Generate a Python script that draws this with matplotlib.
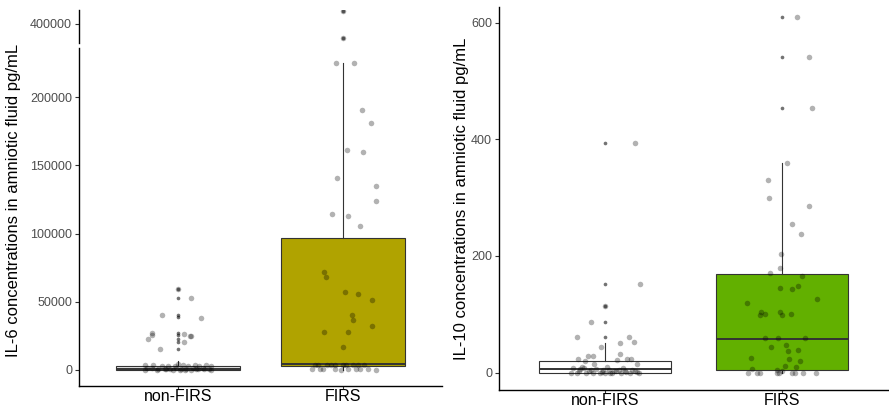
import numpy as np
import matplotlib.pyplot as plt

plt.rcParams['font.family'] = ['Liberation Sans', 'DejaVu Sans']

groups = ['non-FIRS', 'FIRS']

# IL-6 (pg/mL): box statistics per group
il6_q1 = [0, 2500]
il6_med = [1000, 4000]
il6_q3 = [3000, 97000]
il6_lo = [0, 0]
il6_hi = [6500, 225000]
il6_outliers = [[59000, 52700, 40200, 38500, 27000, 25500, 23000, 20600, 15400],
                [409300, 389900]]

# IL-6 individual values and their horizontal jitter
il6_nonfirs = [59000, 52900, 40400, 38000, 27000, 25500, 22600, 26500, 24700, 24700,
               20600, 15400,
               3800, 3500, 3000, 3200, 2800, 4000, 3600, 2500, 3300, 2900, 3700, 3100,
               1500, 1200, 800, 1000, 600, 1400, 900, 700, 1100, 500, 1300, 800,
               200, 100, 300, 0, 150, 250, 50, 400, 350, 0]
il6_nonfirs_jit = [0.0, 0.081, -0.10, 0.14, -0.155, -0.16, -0.18, 0.038, 0.081, 0.07,
                   0.038, -0.108,
                   -0.2, -0.15, -0.1, -0.06, -0.02, 0.0, 0.03, 0.06, 0.1, 0.13, 0.17, 0.2,
                   -0.19, -0.16, -0.12, -0.08, -0.05, -0.01, 0.02, 0.05, 0.09, 0.12, 0.15, 0.19,
                   -0.2, -0.13, -0.07, -0.03, 0.01, 0.04, 0.08, 0.11, 0.16, 0.2]
il6_firs = [409300, 389900, 225000, 225000, 190400, 181000, 161000, 159600, 141000, 135000,
            123500, 114500, 113000, 105800, 71800, 67900, 56800, 55900, 51500, 40200,
            36800, 31900, 27900, 27900, 17100,
            3600, 3700, 3500, 3800, 3600, 3400, 3700, 3500, 3600, 3800,
            400, 600, 300, 500, 200, 700, 400, 300, 500, 200]
il6_firs_jit = [0.0, 0.0, -0.04, 0.065, 0.114, 0.17, 0.024, 0.122, -0.037, 0.2,
                0.2, -0.067, 0.03, 0.104, -0.118, -0.104, 0.012, 0.09, 0.175, 0.053,
                0.061, 0.177, -0.118, 0.03, 0.0,
                -0.17, -0.15, -0.1, -0.07, -0.05, 0.0, 0.02, 0.06, 0.09, 0.13,
                -0.19, -0.14, -0.12, -0.05, -0.01, 0.03, 0.08, 0.1, 0.15, 0.2]

# IL-10 (pg/mL): box statistics per group
il10_q1 = [0, 5]
il10_med = [5.6, 58]
il10_q3 = [20, 169]
il10_lo = [0, 0]
il10_hi = [51, 359]
il10_outliers = [[393, 151.6, 114.5, 86, 61.5], [609.7, 542, 454]]

il10_nonfirs = [393, 151.6, 114.5, 86, 61.5, 61.5, 51.9, 50, 43.3, 32, 29, 28, 24, 24,
                22.8, 20.5, 21, 14, 14, 10, 10,
                8, 7, 6, 5, 5, 4, 3, 3, 2, 2, 1, 1, 0, 0, 0, 0, 0, 0, 0, 0, 0,
                6, 4, 2, 1, 0, 0, 3, 7, 5]
il10_nonfirs_jit = [0.17, 0.196, 0.0, -0.08, -0.16, 0.134, 0.162, 0.087, -0.024, 0.084,
                    -0.097, -0.067, 0.125, 0.147, -0.154, -0.113, 0.069, 0.18, -0.06,
                    -0.13, 0.013,
                    -0.18, -0.12, -0.05, 0.02, 0.08, 0.15, -0.15, 0.05, -0.09, 0.11,
                    -0.02, 0.18, -0.19, -0.16, -0.11, -0.07, -0.03, 0.0, 0.04, 0.09, 0.14,
                    -0.14, -0.01, 0.06, 0.12, 0.19, 0.03, 0.17, 0.1, -0.08]
il10_firs = [609.7, 542, 454, 359, 331, 300, 285, 254, 238, 204, 179.5, 171.5, 166,
             144.7, 142.5, 148.7, 119, 126.5, 104, 101, 98.6, 104, 98.6, 101,
             58.7, 58.7, 58.7, 44.4, 47.3, 37.6, 39.3, 24.5, 22.8, 19.4, 6.3, 11.4,
             9.1, 4.6, 3.4, 0, 0, 0, 0, 0, 0, 0, 0, 0]
il10_firs_jit = [0.084, 0.151, 0.173, 0.028, -0.077, -0.071, 0.151, 0.056, 0.106, -0.004,
                 -0.011, -0.065, 0.112, -0.009, 0.059, 0.089, -0.196, 0.197, -0.116,
                 -0.097, -0.123, -0.009, 0.0, 0.052, -0.093, -0.021, 0.13, -0.06, 0.022,
                 0.037, 0.093, -0.173, 0.041, 0.102, -0.17, 0.018, 0.078, -0.03, 0.0,
                 -0.19, -0.143, -0.125, -0.03, -0.019, 0.056, 0.074, 0.117, 0.19]

W, H = 889, 409
fig = plt.figure(figsize=(W / 100, H / 100), dpi=100)


def px_axes(x0, y0, x1, y1):
    return fig.add_axes([x0 / W, 1 - y1 / H, (x1 - x0) / W, (y1 - y0) / H])


def style(ax):
    for s in ['top', 'right']:
        ax.spines[s].set_visible(False)
    for s in ['left', 'bottom']:
        ax.spines[s].set_linewidth(1.0)
    ax.tick_params(axis='y', labelsize=9, labelcolor='#4d4d4d', color='#333333',
                   length=3, width=0.8, pad=2)
    ax.tick_params(axis='x', labelsize=11.5, labelcolor='black', color='#333333',
                   length=2.5, width=0.8, pad=0)


def draw_boxes(ax, q1, med, q3, lo, hi, fills):
    stats = [dict(q1=q1[i], med=med[i], q3=q3[i], whislo=lo[i], whishi=hi[i], fliers=[])
             for i in range(len(groups))]
    b = ax.bxp(stats, positions=[1, 2], widths=0.75, patch_artist=True, showcaps=False,
               boxprops=dict(edgecolor='#333333', linewidth=0.8),
               medianprops=dict(color='#333333', linewidth=1.4),
               whiskerprops=dict(color='#333333', linewidth=0.8))
    for patch, fc in zip(b['boxes'], fills):
        patch.set_facecolor(fc)


def draw_points(ax, outliers, sets):
    for i, vals in enumerate(outliers):
        ax.scatter(np.full(len(vals), i + 1), vals, s=7, color='black', alpha=0.55,
                   linewidths=0, zorder=4)
    for i, (vals, jit) in enumerate(sets):
        ax.scatter(i + 1 + np.array(jit), vals, s=16, color='black', alpha=0.3,
                   linewidths=0, zorder=5)


# left panel: IL-6 with broken y axis
ax_lo = px_axes(79, 48, 442, 386)
ax_hi = px_axes(79, 10, 442, 43)
for ax in (ax_lo, ax_hi):
    style(ax)
    draw_boxes(ax, il6_q1, il6_med, il6_q3, il6_lo, il6_hi, ['#e3e3e3', '#b0a300'])
    draw_points(ax, il6_outliers, [(il6_nonfirs, il6_nonfirs_jit), (il6_firs, il6_firs_jit)])
    ax.set_xlim(0.4, 2.6)
ax_lo.set_ylim(-11800, 236000)
ax_lo.set_yticks([0, 50000, 100000, 150000, 200000])
ax_lo.set_xticks([1, 2])
ax_lo.set_xticklabels(groups)
ax_hi.set_ylim(386000, 410300)
ax_hi.set_yticks([400000])
ax_hi.spines['bottom'].set_visible(False)
ax_hi.set_xticks([])
ax_lo.set_ylabel('IL-6 concentrations in amniotic fluid pg/mL', fontsize=12)
ax_lo.yaxis.set_label_coords(-58 / 363, 0.55)

# right panel: IL-10
ax_r = px_axes(499, 7, 888, 390)
style(ax_r)
draw_boxes(ax_r, il10_q1, il10_med, il10_q3, il10_lo, il10_hi, ['white', '#62b000'])
draw_points(ax_r, il10_outliers, [(il10_nonfirs, il10_nonfirs_jit), (il10_firs, il10_firs_jit)])
ax_r.set_xlim(0.4, 2.6)
ax_r.set_ylim(-30, 627)
ax_r.set_yticks([0, 200, 400, 600])
ax_r.set_xticks([1, 2])
ax_r.set_xticklabels(groups)
ax_r.set_ylabel('IL-10 concentrations in amniotic fluid pg/mL', fontsize=12)
ax_r.yaxis.set_label_coords(-30 / 389, 0.5)

fig.savefig('out.png', dpi=100)
